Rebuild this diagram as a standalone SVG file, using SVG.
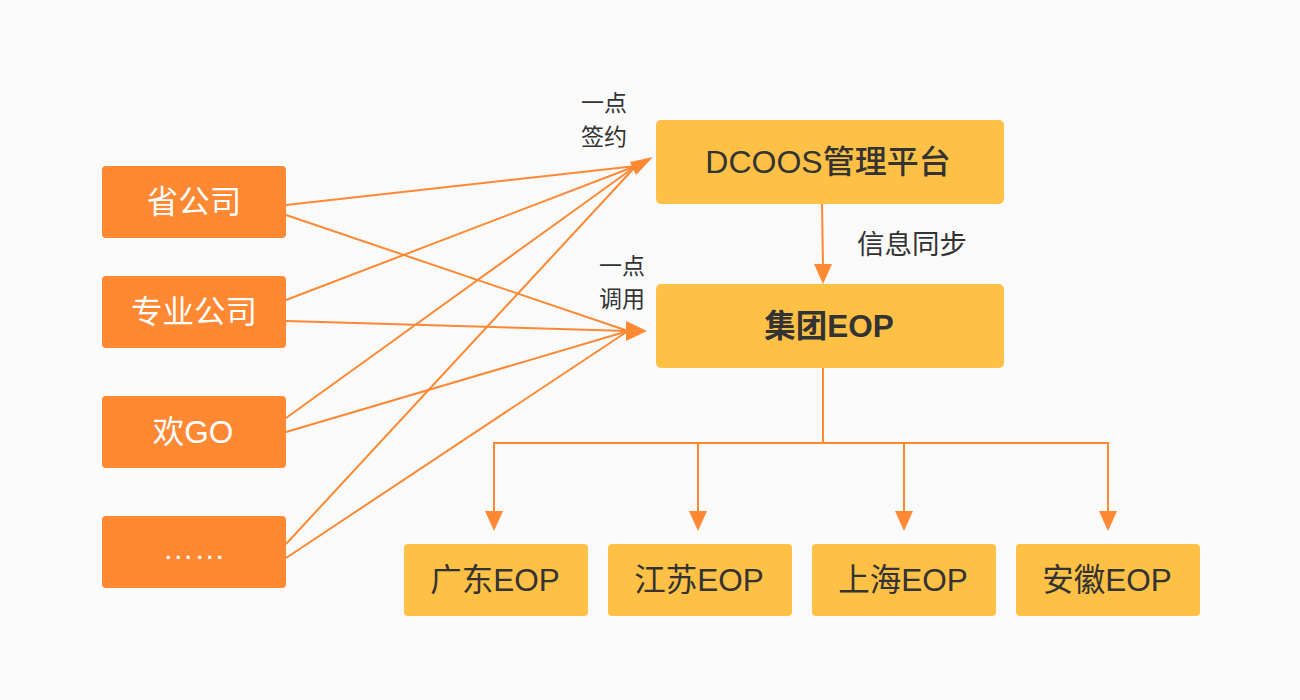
<svg xmlns="http://www.w3.org/2000/svg" width="1300" height="700" viewBox="0 0 1300 700">
<style>
.src rect{fill:#FF8833}
.src text{fill:#FFFFFF;font-size:31.5px}
.dst rect{fill:#FFC145}
.dst text{fill:#333333;font-size:31.5px}
text{font-family:"Liberation Sans","Noto Sans CJK SC",sans-serif;text-anchor:middle;dominant-baseline:central}
.lbl{fill:#333333;font-size:23px}
.ln{stroke:#FF8833;stroke-width:2;fill:none}
.ah{fill:#FF8833}
</style>
<rect width="1300" height="700" fill="#FAFAFA"/>
<g id="connectors">
<line class="ln" x1="286" y1="205" x2="636" y2="166"/>
<line class="ln" x1="286" y1="300" x2="636" y2="166"/>
<line class="ln" x1="286" y1="418" x2="636" y2="166"/>
<line class="ln" x1="286" y1="544" x2="636" y2="166"/>
<polygon class="ah" points="653,157 630,162 636,175"/>
<line class="ln" x1="286" y1="215" x2="628" y2="331"/>
<line class="ln" x1="286" y1="321" x2="628" y2="331"/>
<line class="ln" x1="286" y1="432" x2="628" y2="331"/>
<line class="ln" x1="286" y1="558" x2="628" y2="331"/>
<polygon class="ah" points="647,331 626,321 626,341"/>
<line class="ln" x1="822" y1="204" x2="823" y2="266"/>
<polygon class="ah" points="823,284 814,264 832,264"/>
<polyline class="ln" points="823,368 823,443"/>
<polyline class="ln" points="494,513 494,443 1108,443 1108,513"/>
<line class="ln" x1="698" y1="443" x2="698" y2="513"/>
<line class="ln" x1="904" y1="443" x2="904" y2="513"/>
<polygon class="ah" points="494,531 485,511 503,511"/>
<polygon class="ah" points="698,531 689,511 707,511"/>
<polygon class="ah" points="904,531 895,511 913,511"/>
<polygon class="ah" points="1108,531 1099,511 1117,511"/>
</g>
<g id="labels">
<text class="lbl" x="604" y="103">一点</text>
<text class="lbl" x="604" y="137">签约</text>
<text class="lbl" x="622" y="266">一点</text>
<text class="lbl" x="622" y="299">调用</text>
<text class="lbl" x="912" y="244" style="font-size:27.5px">信息同步</text>
</g>
<g id="n-sheng" class="src"><rect x="102" y="166" width="184" height="72" rx="4"/><text x="194" y="202">省公司</text></g>
<g id="n-zhuanye" class="src"><rect x="102" y="276" width="184" height="72" rx="4"/><text x="194" y="312">专业公司</text></g>
<g id="n-huango" class="src"><rect x="102" y="396" width="184" height="72" rx="4"/><text x="193" y="432">欢GO</text></g>
<g id="n-more" class="src"><rect x="102" y="516" width="184" height="72" rx="4"/><text x="194" y="548">……</text></g>
<g id="n-dcoos" class="dst"><rect x="656" y="120" width="348" height="84" rx="5"/><text x="828" y="162" style="font-weight:500;font-size:32px">DCOOS管理平台</text></g>
<g id="n-jituan" class="dst"><rect x="656" y="284" width="348" height="84" rx="5"/><text x="829" y="326" style="font-weight:bold">集团EOP</text></g>
<g id="n-gd" class="dst"><rect x="404" y="544" width="184" height="72" rx="4"/><text x="495" y="580">广东EOP</text></g>
<g id="n-js" class="dst"><rect x="608" y="544" width="184" height="72" rx="4"/><text x="699" y="580">江苏EOP</text></g>
<g id="n-sh" class="dst"><rect x="812" y="544" width="184" height="72" rx="4"/><text x="903" y="580">上海EOP</text></g>
<g id="n-ah" class="dst"><rect x="1016" y="544" width="184" height="72" rx="4"/><text x="1107" y="580">安徽EOP</text></g>
</svg>
